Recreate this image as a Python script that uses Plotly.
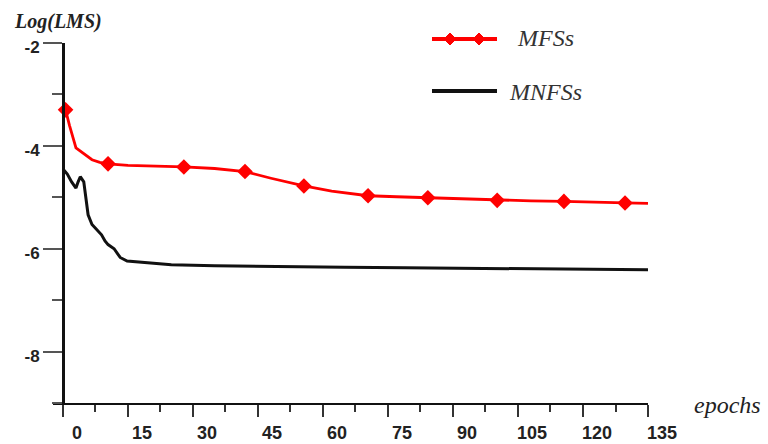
import plotly.graph_objects as go

# ---- data ----
mfs_epochs = [0.6, 1.5, 3.0, 5.0, 6.7, 8.5, 10.4, 15, 20, 27.9, 35, 42, 48, 55.6, 62, 70.4, 77, 84.2, 92, 100.2, 108, 115.6, 122, 129.7, 135]
mfs_values = [-3.30, -3.60, -4.04, -4.17, -4.27, -4.32, -4.35, -4.38, -4.39, -4.41, -4.44, -4.50, -4.63, -4.78, -4.88, -4.97, -4.99, -5.01, -5.03, -5.06, -5.07, -5.08, -5.10, -5.11, -5.12]
mfs_marker_epochs = [0.6, 10.4, 27.9, 42, 55.6, 70.4, 84.2, 100.2, 115.6, 129.7]
mfs_marker_values = [-3.30, -4.35, -4.41, -4.50, -4.78, -4.97, -5.01, -5.06, -5.08, -5.11]

mnfs_epochs = [0, 1, 2, 3, 3.5, 4, 4.8, 5.3, 5.8, 6.7, 8.1, 8.9, 9.7, 10.4, 11.8, 12.5, 13.2, 14.8, 17.8, 25, 35, 48.5, 65, 79, 95, 110, 122, 135]
mnfs_values = [-4.45, -4.55, -4.70, -4.82, -4.70, -4.60, -4.70, -5.00, -5.34, -5.53, -5.67, -5.73, -5.85, -5.92, -6.00, -6.08, -6.17, -6.24, -6.26, -6.31, -6.33, -6.35, -6.36, -6.37, -6.38, -6.39, -6.40, -6.41]

x_ticks = [0, 15, 30, 45, 60, 75, 90, 105, 120, 135]
y_ticks = [-2, -4, -6, -8]
y_ticklabels = ["-2", "-4", "-6", "-8"]

RED = "#ff0000"

fig = go.Figure()
fig.add_trace(go.Scatter(x=mnfs_epochs, y=mnfs_values, mode="lines",
                         line=dict(color="#111111", width=3), name="MNFSs",
                         showlegend=False, cliponaxis=False))
fig.add_trace(go.Scatter(x=mfs_epochs, y=mfs_values, mode="lines",
                         line=dict(color=RED, width=2.8), name="MFSs",
                         showlegend=False, cliponaxis=False))
fig.add_trace(go.Scatter(x=mfs_marker_epochs, y=mfs_marker_values, mode="markers",
                         marker=dict(symbol="diamond", size=12, color=RED),
                         showlegend=False, cliponaxis=False))

# plot area pixels: x 53..648, y 43..403
L, R, T, B = 53, 648, 43, 403
W, H = R - L, B - T
def px(x):
    return (x - L) / W
def py(y):
    return (B - y) / H

shapes = []
# y axis extension below x axis
shapes.append(dict(type="line", xref="x", yref="y", x0=0, x1=0, y0=-9, y1=-9.14,
                   line=dict(color="#111111", width=3)))
# legend: red line with two diamonds
shapes.append(dict(type="line", xref="paper", yref="paper", x0=px(432), x1=px(497),
                   y0=py(39), y1=py(39), line=dict(color=RED, width=4)))
for cx in (450, 479):
    shapes.append(dict(type="path", xref="paper", yref="paper",
                       xsizemode="pixel", ysizemode="pixel",
                       xanchor=px(cx), yanchor=py(39),
                       path="M 0 6 L 6 0 L 0 -6 L -6 0 Z",
                       fillcolor=RED, line=dict(color=RED, width=1)))
# legend: black line
shapes.append(dict(type="line", xref="paper", yref="paper", x0=px(432), x1=px(497),
                   y0=py(91), y1=py(91), line=dict(color="#111111", width=4)))

annotations = [
    dict(text="<b><i>Log(LMS)</i></b>", xref="paper", yref="paper", x=px(58), y=py(22),
         xanchor="center", yanchor="middle", showarrow=False,
         font=dict(family="Liberation Serif", size=20, color="#222222")),
    dict(text="<i>epochs</i>", xref="paper", yref="paper", x=px(727), y=py(405),
         xanchor="center", yanchor="middle", showarrow=False,
         font=dict(family="Liberation Serif", size=24, color="#222222")),
    dict(text="<i>MFSs</i>", xref="paper", yref="paper", x=px(515), y=py(38),
         xanchor="left", yanchor="middle", showarrow=False,
         font=dict(family="Liberation Serif", size=24, color="#333333")),
    dict(text="<i>MNFSs</i>", xref="paper", yref="paper", x=px(507), y=py(92),
         xanchor="left", yanchor="middle", showarrow=False,
         font=dict(family="Liberation Serif", size=24, color="#333333")),
]

fig.update_layout(
    width=768, height=444,
    margin=dict(l=L, r=768 - R, t=T, b=444 - B),
    paper_bgcolor="white", plot_bgcolor="white",
    showlegend=False,
    shapes=shapes, annotations=annotations,
    xaxis=dict(range=[-2.3, 135], showgrid=False, zeroline=False, automargin=False,
               showline=True, linecolor="#111111", linewidth=2,
               tickmode="array", tickvals=x_ticks, ticktext=[str(v) for v in x_ticks],
               ticks="outside", ticklen=12, tickwidth=1.5, tickcolor="#333333",
               minor=dict(dtick=7.5, tick0=0, ticks="outside", ticklen=7, tickwidth=1.5, tickcolor="#333333"),
               ticklabelshift=14,
               tickfont=dict(family="Arial", size=18, color="#222222", weight="bold")),
    yaxis=dict(range=[-9, -2], showgrid=False, zeroline=False, automargin=False,
               anchor="free", position=px(63),
               showline=True, linecolor="#111111", linewidth=3,
               tickmode="array", tickvals=y_ticks, ticktext=y_ticklabels,
               ticks="outside", ticklen=19, tickwidth=1.5, tickcolor="#555555",
               minor=dict(dtick=1, tick0=-9, ticks="outside", ticklen=10, tickwidth=1.5, tickcolor="#555555"),
               ticklabelshift=4,
               tickfont=dict(family="Arial", size=17, color="#222222", weight="bold")),
)

fig.write_html("out.html")
